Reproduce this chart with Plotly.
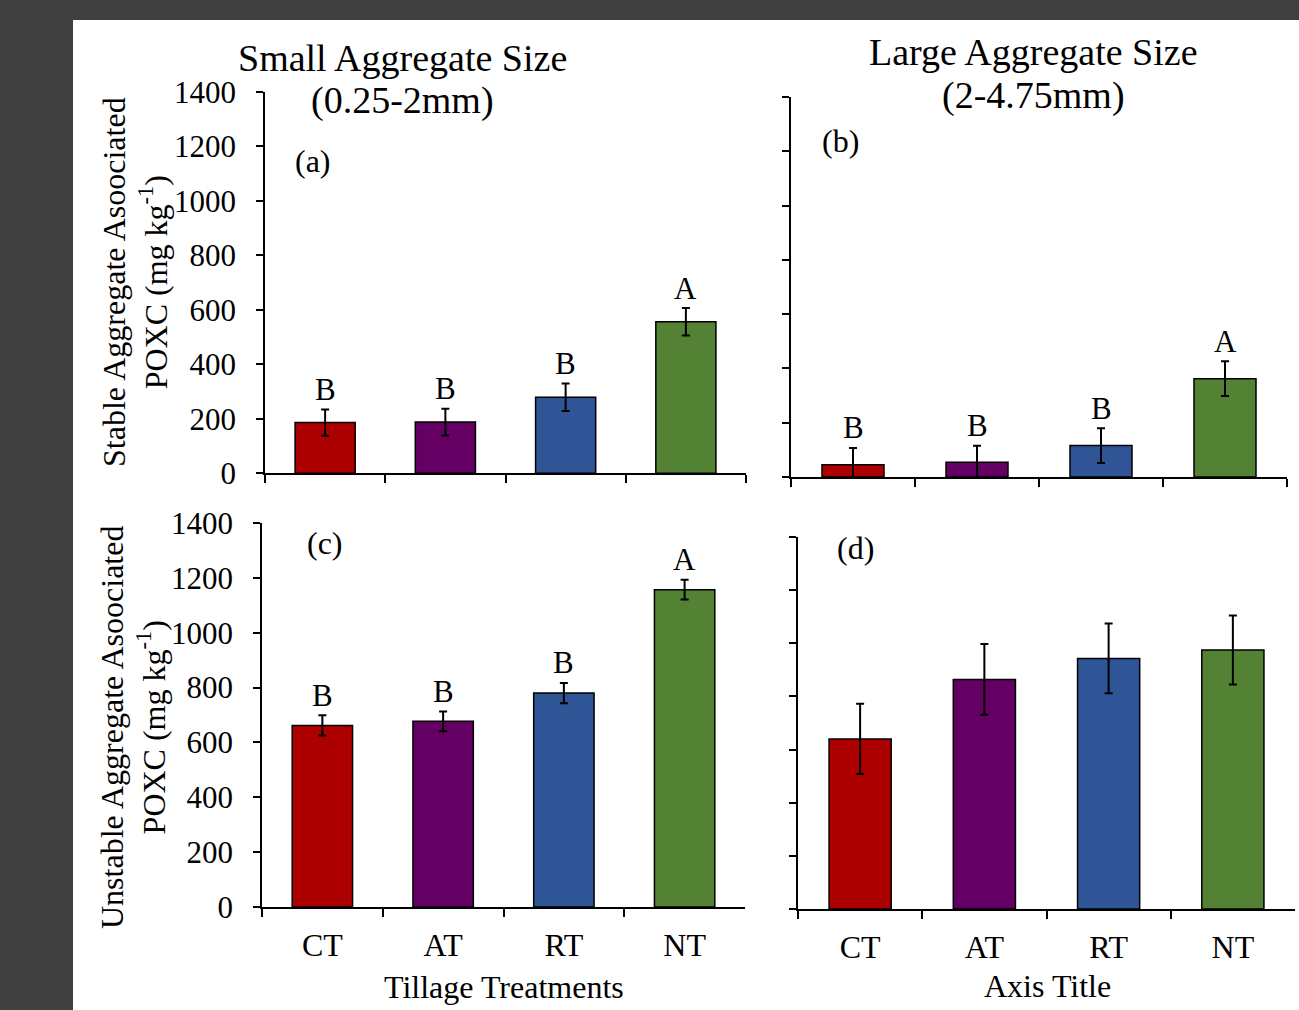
import plotly.graph_objects as go

# ---------------- data ----------------
categories = ["CT", "AT", "RT", "NT"]
colors = ["#AD0000", "#640064", "#2F5597", "#538234"]

# (a) small aggregates, stable
a_vals = [186, 188, 279, 556]
a_err = [48, 49, 50, 50]
a_letters = ["B", "B", "B", "A"]

# (b) large aggregates, stable
b_vals = [45, 54, 116, 362]
b_err = [62, 61, 64, 64]
b_letters = ["B", "B", "B", "A"]

# (c) small aggregates, unstable
c_vals = [662, 677, 780, 1157]
c_err = [37, 36, 37, 36]
c_letters = ["B", "B", "B", "A"]

# (d) large aggregates, unstable
d_vals = [640, 864, 943, 975]
d_err = [132, 133, 131, 130]

y_ticks = [0, 200, 400, 600, 800, 1000, 1200, 1400]

# ---------------- layout helpers ----------------
W, H = 1299, 1010
FONT = "Liberation Serif, Times New Roman, serif"


def px(x):
    return x / W


def py(y):
    return 1 - y / H


panels = {
    # name: (xaxis id, yaxis id, x0, x1, ytop, ybottom)
    "a": ("x", "y", 265, 746, 91.7, 473.3),
    "b": ("x2", "y2", 791, 1287, 97, 477),
    "c": ("x3", "y3", 262, 745, 523, 907),
    "d": ("x4", "y4", 798, 1295, 537, 909),
}

data_sets = {
    "a": (a_vals, a_err, a_letters),
    "b": (b_vals, b_err, b_letters),
    "c": (c_vals, c_err, c_letters),
    "d": (d_vals, d_err, None),
}

fig = go.Figure()
annotations = []

for name, (xa, ya, x0, x1, yt, yb) in panels.items():
    vals, errs, letters = data_sets[name]
    fig.add_trace(go.Bar(
        x=categories, y=vals, xaxis=xa, yaxis=ya,
        marker=dict(color=colors, line=dict(color="black", width=1.5)),
        width=0.5,
        error_y=dict(type="data", array=errs, visible=True,
                     color="black", thickness=2, width=4),
        showlegend=False, hoverinfo="x+y",
    ))
    if letters:
        for c, v, e, t in zip(categories, vals, errs, letters):
            annotations.append(dict(
                x=c, y=v + e, xref=xa, yref=ya, text=t, showarrow=False,
                yanchor="middle", yshift=20,
                font=dict(family=FONT, size=31, color="black"),
            ))

layout_axes = {}
for name, (xa, ya, x0, x1, yt, yb) in panels.items():
    xkey = "xaxis" if xa == "x" else "xaxis" + xa[1:]
    ykey = "yaxis" if ya == "y" else "yaxis" + ya[1:]
    bottom = name in ("c", "d")
    left = name in ("a", "c")
    layout_axes[xkey] = dict(
        domain=[px(x0), px(x1)], anchor=ya,
        type="category", range=[-0.5, 3.5],
        showline=True, linecolor="black", linewidth=1.5,
        ticks="outside", tickson="boundaries", ticklen=8, tickwidth=1.5,
        tickcolor="black",
        showticklabels=bottom, ticklabelstandoff=9,
        tickfont=dict(family=FONT, size=32, color="black"),
        showgrid=False, zeroline=False, fixedrange=True, automargin=False,
    )
    layout_axes[ykey] = dict(
        domain=[py(yb), py(yt)], anchor=xa,
        range=[0, 1400], tickvals=y_ticks,
        showline=True, linecolor="black", linewidth=1.5,
        ticks="outside", ticklen=7, tickwidth=1.5, tickcolor="black",
        showticklabels=left, ticklabelstandoff=14,
        tickfont=dict(family=FONT, size=31, color="black"),
        showgrid=False, zeroline=False, fixedrange=True, automargin=False,
    )


def pap(text, x, y, size=32, angle=0):
    annotations.append(dict(
        text=text, x=px(x), y=py(y), xref="paper", yref="paper",
        showarrow=False, xanchor="center", yanchor="middle",
        textangle=angle, font=dict(family=FONT, size=size, color="black"),
    ))


# column titles
pap("Small Aggregate Size", 403, 58, 38)
pap("(0.25-2mm)", 403, 101, 38)
pap("Large Aggregate Size", 1033, 52, 38)
pap("(2-4.75mm)", 1033, 96, 38)

# panel labels
pap("(a)", 313, 161)
pap("(b)", 840, 141)
pap("(c)", 325, 543)
pap("(d)", 855, 548)

# y-axis titles
pap("Stable Aggregate Asoociated<br>POXC (mg kg<sup>-1</sup>)", 135, 282, 32, -90)
pap("Unstable Aggregate Asoociated<br>POXC (mg kg<sup>-1</sup>)", 133, 728, 32, -90)

# x-axis titles
pap("Tillage Treatments", 504, 987)
pap("Axis Title", 1047, 986)

fig.update_layout(
    width=W, height=H,
    margin=dict(l=0, r=0, t=0, b=0, pad=0, autoexpand=False),
    paper_bgcolor="#404040",
    plot_bgcolor="rgba(0,0,0,0)",
    annotations=annotations,
    shapes=[dict(type="rect", xref="paper", yref="paper",
                 x0=px(73), x1=1, y0=0, y1=py(20),
                 fillcolor="white", line=dict(width=0), layer="below")],
    bargap=0.5,
    **layout_axes,
)

fig.write_html(
    "out.html",
    config={"displayModeBar": False},
    post_script="document.body.style.margin='0';document.body.style.overflow='hidden';",
)
